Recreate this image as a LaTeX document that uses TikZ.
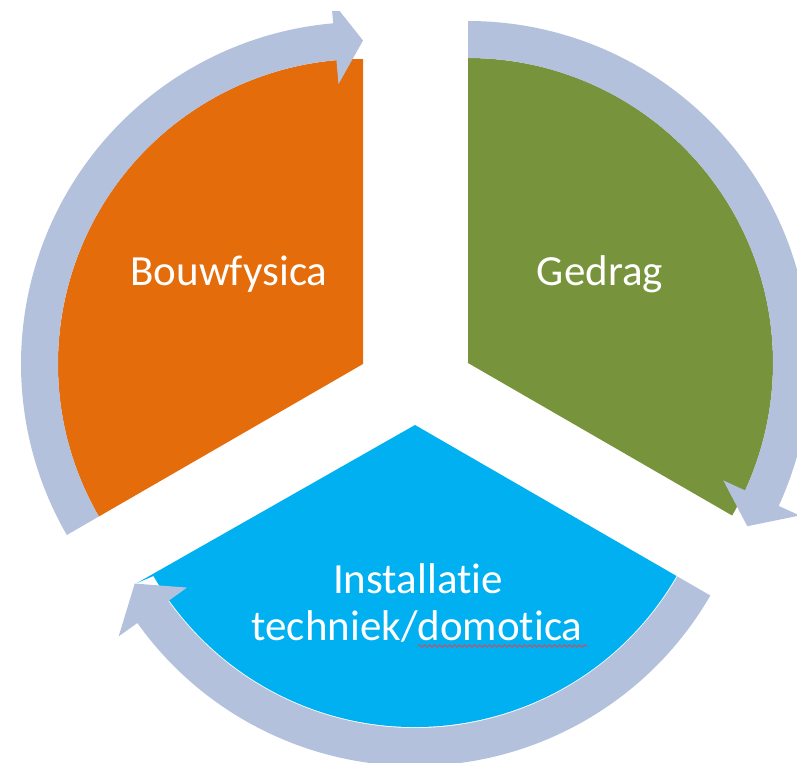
\documentclass[tikz,border=0pt]{standalone}
\usepackage{fontspec}
\setmainfont{Carlito}[Ligatures={NoCommon,NoContextual},RawFeature={-liga;-clig;-dlig;-calt}]
\usetikzlibrary{calc,decorations.pathmorphing}
\definecolor{segorange}{RGB}{228,108,10}
\definecolor{seggreen}{RGB}{119,147,60}
\definecolor{segblue}{RGB}{0,176,240}
\definecolor{arrowgray}{RGB}{179,193,220}
\definecolor{spellred}{RGB}{200,80,100}
\begin{document}
\begin{tikzpicture}[x=0.5pt,y=0.5pt,
  segtext/.style={text=white,font=\fontsize{21.5pt}{23.5pt}\selectfont,inner sep=0pt,anchor=base},
  cyclearrowfill/.style={fill=arrowgray}]
\useasboundingbox (0,0) rectangle (797,762);
\clip (0,0) rectangle (797,750);
% segment apexes
\coordinate (O) at (363,398);
\coordinate (G) at (468,399);
\coordinate (B) at (415,337);
% segments
\fill[segorange] (O) -- ($(O)+(210:305)$) arc[start angle=210,end angle=90,radius=305] -- cycle;
\fill[seggreen] (G) -- ($(G)+(90:305)$) arc[start angle=90,end angle=-30,radius=305] -- cycle;
\fill[segblue] (B) -- ($(B)+(-30:302)$) arc[start angle=-30,end angle=-150,radius=302] -- (137,179) -- cycle;
% circular arrows
\fill[cyclearrowfill] ($(O)+(210:305)$) arc[start angle=210,end angle=95,radius=305]
  -- ($(O)+(95:281)$) -- ($(O)+(90:323.5)$) -- ($(O)+(95:365)$) -- ($(O)+(95:342)$)
  arc[start angle=95,end angle=210,radius=342] -- cycle;
\fill[cyclearrowfill] ($(G)+(90:305)$) arc[start angle=90,end angle=-24.7,radius=305]
  -- ($(G)+(-24.7:281)$) -- ($(G)+(-30.3:323.5)$) -- ($(G)+(-24.7:365)$) -- ($(G)+(-24.7:342)$)
  arc[start angle=-24.7,end angle=90,radius=342] -- cycle;
\fill[cyclearrowfill] ($(B)+(-30:303)$) arc[start angle=-30,end angle=-144.5,radius=303]
  -- ($(B)+(-144.5:280)$) -- ($(B)+(-150.5:322)$) -- ($(B)+(-144.5:364)$) -- ($(B)+(-144.5:341)$)
  arc[start angle=-144.5,end angle=-30,radius=341] -- cycle;
% labels
\node[segtext] (bouw) at (229,477) {Bouwfysica};
\node[segtext] (gedrag) at (600,477) {Gedrag};
\node[segtext] (inst1) at (418,169) {Installatie};
\node[segtext] (inst2) at (417,122) {techniek/domotica};
\coordinate (ulA) at (418,116);
\coordinate (ulB) at (587,116);
\draw[spellred,line width=0.5pt,decorate,decoration={snake,amplitude=0.6pt,segment length=2.5pt}] (ulA) -- (ulB);
\end{tikzpicture}
\end{document}
